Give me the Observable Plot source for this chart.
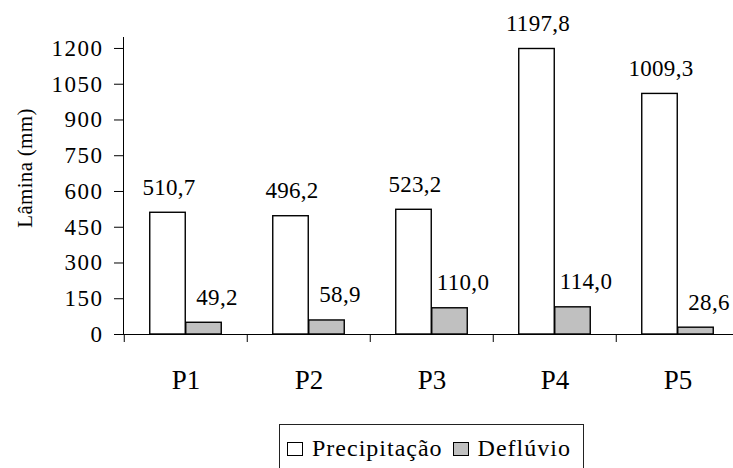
<!DOCTYPE html>
<html>
<head>
<meta charset="utf-8">
<script src="https://cdn.jsdelivr.net/npm/d3@7"></script>
<script src="https://cdn.jsdelivr.net/npm/@observablehq/plot@0.6"></script>
<style>
  body { margin: 0; background: white; font-family: "Liberation Serif", "Times New Roman", serif; }
  #chart svg, #chart svg text { font-family: "Liberation Serif", "Times New Roman", serif !important; font-variant: normal !important; }
  #chart svg g[aria-label="text"] text { letter-spacing: 0.3px; }
  #chart svg g[aria-label="y-axis tick label"] text { letter-spacing: 1.5px; }
  .legend { margin-left: 279px; width: 303px; height: 60px; border: 1px solid #222; box-sizing: content-box;
            display: flex; align-items: flex-start; font-family: "Liberation Serif", "Times New Roman", serif;
            font-size: 24px; letter-spacing: 1px; color: black; }
  .legend .sq { display: inline-block; width: 14px; height: 12px; border: 1.5px solid black; }
  .legend .item { display: flex; align-items: center; margin-top: 10px; }
</style>
</head>
<body>
<div id="chart"></div>
<script>
const categories = ["P1", "P2", "P3", "P4", "P5"];
const precipitacao = [510.7, 496.2, 523.2, 1197.8, 1009.3];
const defluvio = [49.2, 58.9, 110.0, 114.0, 28.6];
const seriesNames = ["Precipitação", "Deflúvio"];
const seriesColors = ["white", "#c0c0c0"];
const yTicks = [0, 150, 300, 450, 600, 750, 900, 1050, 1200];
const yLabel = "Lâmina (mm)";

const fmt = v => v.toFixed(1).replace(".", ",");
const rows = categories.map((c, i) => ({cat: c, precip: precipitacao[i], defl: defluvio[i]}));

const chart = Plot.plot({
  width: 733,
  height: 424,
  marginLeft: 123,
  marginRight: -7.5,
  marginTop: 37,
  marginBottom: 90,
  x: {domain: categories, padding: 0},
  y: {domain: [0, 1246]},
  style: {fontFamily: "Liberation Serif, Times New Roman, serif", fontSize: "20px", color: "black", background: "white"},
  marks: [
    Plot.barY(rows, {x: "cat", y: "precip", fill: seriesColors[0], stroke: "black", strokeWidth: 1.4, insetLeft: 25.75, insetRight: 61.75}),
    Plot.barY(rows, {x: "cat", y: "defl", fill: seriesColors[1], stroke: "black", strokeWidth: 1.4, insetLeft: 61.75, insetRight: 25.75}),
    Plot.text(rows, {x: "cat", y: "precip", text: d => fmt(d.precip), dx: -17, dy: -25.5, fontSize: 23, fill: "black"}),
    Plot.text(rows, {x: "cat", y: "defl", text: d => fmt(d.defl), dx: 31, dy: -25.5, fontSize: 23, fill: "black"}),
    Plot.ruleY([0], {stroke: "black"}),
    Plot.frame({anchor: "left", stroke: "black"}),
    Plot.ruleX(categories, {x: d => d, dx: -61.75, y1: 0, y2: 0, insetBottom: -8, stroke: "black"}),
    Plot.axisY({ticks: yTicks, tickSize: 9, tickPadding: 11, fontSize: 23, tickFormat: d => String(d), label: null, stroke: "black"}),
    Plot.axisX({tickSize: 0, tickPadding: 35, fontSize: 27, label: null}),
    Plot.text([yLabel], {frameAnchor: "left", textAnchor: "middle", lineAnchor: "middle", rotate: -90, dx: -98, dy: -18, fontSize: 21, fill: "black"})
  ]
});
document.getElementById("chart").appendChild(chart);

const legend = document.createElement("div");
legend.className = "legend";
seriesNames.forEach((name, i) => {
  const item = document.createElement("div");
  item.className = "item";
  item.style.marginLeft = i === 0 ? "7px" : "10px";
  const sq = document.createElement("span");
  sq.className = "sq";
  sq.style.background = seriesColors[i];
  const t = document.createElement("span");
  t.textContent = name;
  t.style.marginLeft = "9px";
  item.appendChild(sq);
  item.appendChild(t);
  legend.appendChild(item);
});
document.body.appendChild(legend);
</script>
</body>
</html>
